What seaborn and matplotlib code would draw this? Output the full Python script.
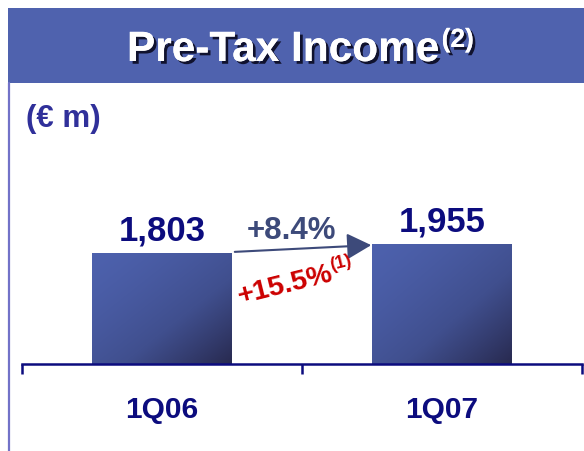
import numpy as np
import pandas as pd
import matplotlib
matplotlib.use('Agg')
import matplotlib.pyplot as plt
import seaborn as sns
from matplotlib.colors import LinearSegmentedColormap
from matplotlib.patches import Rectangle, FancyArrowPatch
from matplotlib.lines import Line2D
import matplotlib.patheffects as pe

# ── Data ─────────────────────────────────────
quarters = ['1Q06', '1Q07']
income = [1803, 1955]
value_labels = ['1,803', '1,955']
growth_label = '+8.4%'
growth_adj_label = '+15.5%'

df = pd.DataFrame({'quarter': quarters, 'income': income})

# ── Colours ──────────────────────────────────
header_blue = '#4f62ae'
navy = '#0c0c7e'
slate = '#3d4a7a'
red = '#cc0000'
bar_cmap = LinearSegmentedColormap.from_list(
    'bar', ['#4d61ad', '#404f8e', '#282a50'])

sns.set_style('white')
plt.rcParams['font.family'] = ['Liberation Sans', 'DejaVu Sans']

W, H = 584, 451
fig = plt.figure(figsize=(W / 100, H / 100), dpi=100)


def px(x, y):
    # pixel position -> figure fraction
    return x / W, 1 - y / H


# ── Header band + left rule ──────────────────
fig.add_artist(Rectangle(px(8, 83), 1 - 8 / W, 75 / H,
                         transform=fig.transFigure,
                         facecolor=header_blue, edgecolor='none'))
fig.add_artist(Line2D([9 / W, 9 / W], [0, 1 - 83 / H],
                      transform=fig.transFigure,
                      color='#7272c8', linewidth=1.6))

shadow = [pe.withSimplePatchShadow(offset=(2, -2),
                                   shadow_rgbFace='#0a0a20', alpha=0.9),
          pe.Normal()]
t = fig.text(*px(127, 61), 'Pre-Tax Income', color='white',
             fontsize=30.5, fontweight='bold', ha='left', va='baseline',
             path_effects=shadow)
fig.canvas.draw()
bb = t.get_window_extent()
fig.text((bb.x1 + 2) / W, px(0, 47)[1], '(2)', color='white',
         fontsize=19, fontweight='bold', ha='left', va='baseline',
         path_effects=shadow)

fig.text(*px(26, 119), '(€ m)', color='#30309a', fontsize=22.5,
         fontweight='bold', ha='left', va='center')

# ── Bars ─────────────────────────────────────
ax = fig.add_axes([22 / W, 87 / H, 560 / W, 264 / H])
sns.barplot(data=df, x='quarter', y='income', color='#4d61ad',
            width=0.5, saturation=1, ax=ax)

grad = np.add.outer(np.linspace(0, 1, 100), np.linspace(0, 1, 100)) / 2
grad = grad ** 1.4
for patch in ax.patches:
    x0, y0 = patch.get_x(), patch.get_y()
    w, h = patch.get_width(), patch.get_height()
    im = ax.imshow(grad, cmap=bar_cmap, vmin=0, vmax=1, aspect='auto',
                   extent=[x0, x0 + w, y0, y0 + h], origin='upper',
                   zorder=patch.get_zorder() + 0.1)
    im.set_clip_path(patch)

for i, (v, lab) in enumerate(zip(income, value_labels)):
    ax.annotate(lab, (i, v), xytext=(0, 9), textcoords='offset points',
                ha='center', va='baseline', fontsize=25,
                fontweight='bold', color=navy)

ax.set_xlim(-0.5, 1.5)
ax.set_ylim(0, 4295)
ax.set_xticks([-0.5, 0.5, 1.5])
ax.set_xticklabels([])
ax.set_xticks([0, 1], minor=True)
ax.set_xticklabels(quarters, minor=True)
ax.tick_params(axis='x', which='major', direction='out', length=7.5,
               width=1.8, color=navy, bottom=True)
ax.tick_params(axis='x', which='minor', length=0, pad=23,
               labelsize=21.5, labelcolor=navy)
for lbl in ax.get_xticklabels(minor=True):
    lbl.set_fontweight('bold')
ax.set_yticks([])
ax.set_xlabel('')
ax.set_ylabel('')
for s in ['top', 'left', 'right']:
    ax.spines[s].set_visible(False)
ax.spines['bottom'].set_color(navy)
ax.spines['bottom'].set_linewidth(1.8)
ax.patch.set_alpha(0)

# ── Growth arrow and labels ──────────────────
fig.add_artist(FancyArrowPatch(px(232, 252), px(374, 245),
                               transform=fig.transFigure,
                               arrowstyle='-|>,head_length=0.75,head_width=0.4',
                               mutation_scale=20, color=slate,
                               linewidth=1.5))
fig.text(*px(292, 231), growth_label, color=slate, fontsize=22.5,
         fontweight='bold', ha='center', va='center')
fig.text(*px(285, 285), growth_adj_label, color=red, fontsize=20.5,
         fontweight='bold', ha='center', va='center', rotation=14,
         rotation_mode='anchor')
fig.text(*px(341, 263), '(1)', color=red, fontsize=13,
         fontweight='bold', ha='center', va='center', rotation=14,
         rotation_mode='anchor')

fig.savefig('out.png', dpi=100)
